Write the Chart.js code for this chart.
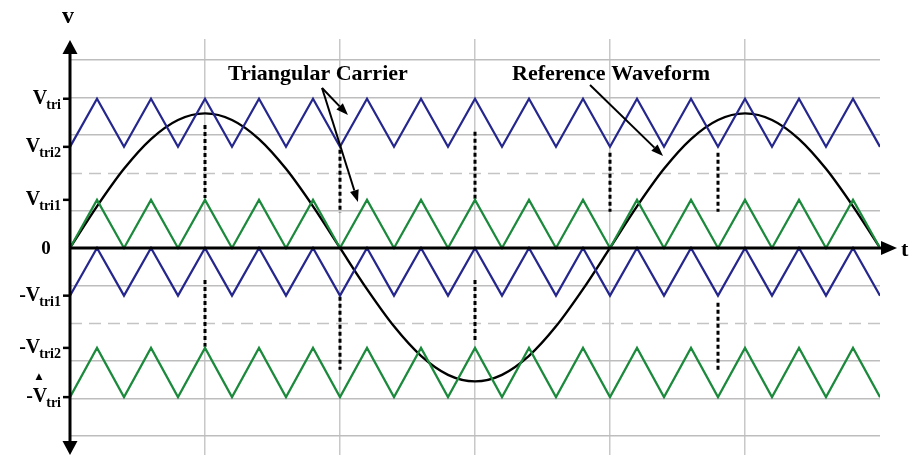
<!DOCTYPE html>
<html><head><meta charset="utf-8">
<script src="https://cdn.jsdelivr.net/npm/chart.js@4.4.1/dist/chart.umd.min.js"></script>
<style>html,body{margin:0;padding:0;background:#fff;overflow:hidden}canvas{display:block}</style>
</head><body>
<canvas id="c" width="910" height="455"></canvas>
<script>
// ---- data ----
const carrierT = [0,0.2,0.4,0.6,0.8,1,1.2,1.4,1.6,1.8,2,2.2,2.4,2.6,2.8,3,3.2,3.4,3.6,3.8,4,4.2,4.4,4.6,4.8,5,5.2,5.4,5.6,5.8,6];
const upperBlue  = [2.69,3.97,2.69,3.97,2.69,3.97,2.69,3.97,2.69,3.97,2.69,3.97,2.69,3.97,2.69,3.97,2.69,3.97,2.69,3.97,2.69,3.97,2.69,3.97,2.69,3.97,2.69,3.97,2.69,3.97,2.69];
const upperGreen = [0,1.28,0,1.28,0,1.28,0,1.28,0,1.28,0,1.28,0,1.28,0,1.28,0,1.28,0,1.28,0,1.28,0,1.28,0,1.28,0,1.28,0,1.28,0];
const lowerBlue  = [-1.27,0,-1.27,0,-1.27,0,-1.27,0,-1.27,0,-1.27,0,-1.27,0,-1.27,0,-1.27,0,-1.27,0,-1.27,0,-1.27,0,-1.27,0,-1.27,0,-1.27,0,-1.27];
const lowerGreen = [-3.97,-2.66,-3.97,-2.66,-3.97,-2.66,-3.97,-2.66,-3.97,-2.66,-3.97,-2.66,-3.97,-2.66,-3.97,-2.66,-3.97,-2.66,-3.97,-2.66,-3.97,-2.66,-3.97,-2.66,-3.97,-2.66,-3.97,-2.66,-3.97,-2.66,-3.97];
const referenceWave = [0,1.106,2.104,2.896,3.405,3.58,3.405,2.896,2.104,1.106,0,-1.097,-2.087,-2.872,-3.376,-3.55,-3.376,-2.872,-2.087,-1.097,0,1.106,2.104,2.896,3.405,3.58,3.405,2.896,2.104,1.106,0];

const dropT      = [1,1,2,2,3,3,4,4.8,4.8];
const dropTop    = [3.27,-0.85,2.61,-1.30,3.09,-0.85,2.53,2.53,-1.46];
const dropBottom = [1.33,-2.63,0.93,-3.24,1.28,-2.53,0.96,0.96,-3.32];

const gridX = [0,1,2,3,4,5];
const gridY = [-5,-4,-3,-2,-1,0,1,2,3,4,5];
const dashedY = [2,-2];

const levelValues = [3.97,2.69,1.28,0,-1.27,-2.66,-3.97];
const levelMain   = ['V','V','V','0','-V','-V','-V'];
const levelSub    = ['tri','tri2','tri1','','tri1','tri2','tri'];

const annotTexts = ['Triangular Carrier','Reference Waveform'];
const annotTextX = [1.17,3.274];
const annotTextY = [4.468,4.468];
// arrows: start and end points in data units
const arrowStartX = [1.867,1.867,3.852];
const arrowStartY = [4.255,4.255,4.335];
const arrowEndX   = [2.059,2.133,4.393];
const arrowEndY   = [3.537,1.223,2.447];

// ---- build ----
const pts = (ys) => carrierT.map((t,i)=>({x:t,y:ys[i]}));
const dropPts = [];
dropT.forEach((t,i)=>{ dropPts.push({x:t,y:dropTop[i]},{x:t,y:dropBottom[i]},{x:t,y:null}); });

const BLUE = '#25278e', GREEN = '#1c8a3c';
const SERIF = '"Liberation Serif","Times New Roman",serif';

const decor = {
  id:'decor',
  beforeDatasetsDraw(chart){
    const {ctx, chartArea:a, scales:{x,y}} = chart;
    ctx.save();
    ctx.strokeStyle = '#c4c4c4'; ctx.lineWidth = 1.5; ctx.setLineDash([12,7]);
    dashedY.forEach(v=>{ const py = Math.round(y.getPixelForValue(v))+0.5;
      ctx.beginPath(); ctx.moveTo(a.left,py); ctx.lineTo(a.right,py); ctx.stroke(); });
    ctx.restore();
  },
  afterDatasetsDraw(chart){
    const {ctx, chartArea:a, scales:{x,y}} = chart;
    const x0 = x.getPixelForValue(0), y0 = y.getPixelForValue(0);
    ctx.save();
    ctx.strokeStyle = '#000'; ctx.fillStyle = '#000'; ctx.lineWidth = 3; ctx.setLineDash([]);
    // y axis
    ctx.beginPath(); ctx.moveTo(x0, a.top+10); ctx.lineTo(x0, a.bottom-10); ctx.stroke();
    ctx.beginPath(); ctx.moveTo(x0, a.top+1); ctx.lineTo(x0-7.5, a.top+15); ctx.lineTo(x0+7.5, a.top+15); ctx.closePath(); ctx.fill();
    ctx.beginPath(); ctx.moveTo(x0, a.bottom); ctx.lineTo(x0-7.5, a.bottom-14); ctx.lineTo(x0+7.5, a.bottom-14); ctx.closePath(); ctx.fill();
    // x axis
    ctx.beginPath(); ctx.moveTo(x0, y0); ctx.lineTo(a.right+8, y0); ctx.stroke();
    ctx.beginPath(); ctx.moveTo(a.right+17, y0); ctx.lineTo(a.right+1, y0-7); ctx.lineTo(a.right+1, y0+7); ctx.closePath(); ctx.fill();
    // level ticks and labels
    levelValues.forEach((v,i)=>{
      const py = y.getPixelForValue(v);
      ctx.lineWidth = 2.5;
      if (levelSub[i]) { ctx.beginPath(); ctx.moveTo(x0-7, py); ctx.lineTo(x0, py); ctx.stroke(); }
      if (!levelSub[i]) {
        ctx.font = 'bold 19px '+SERIF; ctx.textAlign='center'; ctx.textBaseline='alphabetic';
        ctx.fillText(levelMain[i], 46, py+6);
        return;
      }
      ctx.textAlign='left'; ctx.textBaseline='alphabetic';
      ctx.font = 'bold 14px '+SERIF; const sw = ctx.measureText(levelSub[i]).width;
      ctx.font = 'bold 20px '+SERIF; const mw = ctx.measureText(levelMain[i]).width;
      const right = x0 - 9;
      ctx.fillText(levelMain[i], right - sw - mw + 1, py+5);
      ctx.font = 'bold 14px '+SERIF; ctx.fillText(levelSub[i], right - sw, py+10);
    });
    // axis names
    ctx.font = 'bold 24px '+SERIF; ctx.textAlign='center'; ctx.fillText('v', x0-2, 23);
    ctx.font = 'bold 22px '+SERIF; ctx.textAlign='left'; ctx.fillText('t', a.right+21, y0+8);
    ctx.font = '9px "DejaVu Sans"'; ctx.textAlign='center'; ctx.fillText('\u25B2', 39, 379);
    // annotations
    ctx.font = 'bold 22px '+SERIF; ctx.textAlign='left';
    annotTexts.forEach((s,i)=> ctx.fillText(s, x.getPixelForValue(annotTextX[i]), y.getPixelForValue(annotTextY[i])));
    ctx.lineWidth = 2;
    arrowStartX.forEach((sx,i)=>{
      const x1=x.getPixelForValue(sx), y1=y.getPixelForValue(arrowStartY[i]);
      const x2=x.getPixelForValue(arrowEndX[i]), y2=y.getPixelForValue(arrowEndY[i]);
      const ang=Math.atan2(y2-y1,x2-x1), L=12, W=4.5;
      const bx=x2-L*Math.cos(ang), by=y2-L*Math.sin(ang);
      ctx.beginPath(); ctx.moveTo(x1,y1); ctx.lineTo(bx,by); ctx.stroke();
      ctx.beginPath(); ctx.moveTo(x2,y2);
      ctx.lineTo(bx+W*Math.sin(ang), by-W*Math.cos(ang));
      ctx.lineTo(bx-W*Math.sin(ang), by+W*Math.cos(ang)); ctx.closePath(); ctx.fill();
    });
    ctx.restore();
  }
};

new Chart(document.getElementById('c'), {
  type:'line',
  data:{datasets:[
    {data:pts(upperBlue), borderColor:BLUE, borderWidth:2.2, tension:0},
    {data:pts(upperGreen), borderColor:GREEN, borderWidth:2.2, tension:0},
    {data:pts(lowerBlue), borderColor:BLUE, borderWidth:2.2, tension:0},
    {data:pts(lowerGreen), borderColor:GREEN, borderWidth:2.2, tension:0},
    {data:dropPts, borderColor:'#000', borderWidth:3, borderDash:[4,3], spanGaps:false},
    {data:pts(referenceWave), borderColor:'#000', borderWidth:2.4, cubicInterpolationMode:'monotone'}
  ]},
  options:{
    responsive:false, animation:false, devicePixelRatio:1,
    layout:{padding:{left:70,right:30,top:39,bottom:0}},
    plugins:{legend:{display:false}, tooltip:{enabled:false}},
    elements:{point:{radius:0}},
    scales:{
      x:{type:'linear', min:0, max:6,
         afterBuildTicks:(s)=>{ s.ticks = gridX.map(v=>({value:v})); },
         ticks:{display:false}, border:{display:false},
         grid:{drawTicks:false, lineWidth:1.5, color:(c)=> (c.tick && c.tick.value===0) ? 'rgba(0,0,0,0)' : '#c8c8c8'}},
      y:{type:'linear', min:-5.51, max:5.56,
         afterBuildTicks:(s)=>{ s.ticks = gridY.map(v=>({value:v})); },
         ticks:{display:false}, border:{display:false},
         grid:{drawTicks:false, lineWidth:1.5, color:(c)=> (c.tick && (c.tick.value===0 || dashedY.includes(c.tick.value))) ? 'rgba(0,0,0,0)' : '#bdbdbd'}}
    }
  },
  plugins:[decor]
});
</script>
</body></html>
